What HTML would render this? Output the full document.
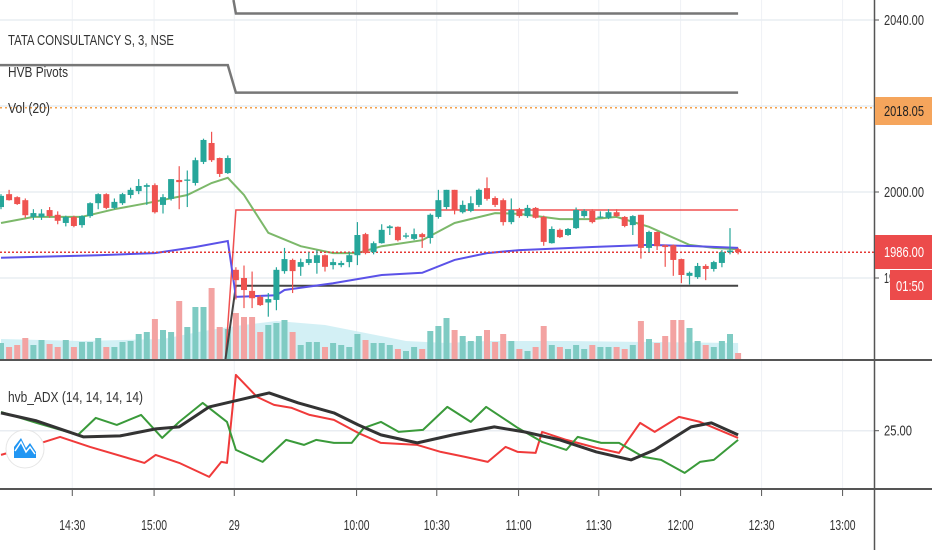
<!DOCTYPE html>
<html><head><meta charset="utf-8">
<style>
html,body{margin:0;padding:0;background:#fff;}
body{width:932px;height:550px;overflow:hidden;position:relative;font-family:"Liberation Sans Narrow","Liberation Sans",sans-serif;}
svg{position:absolute;left:0;top:0;}
.lbl{font-size:15px;fill:#333;}
</style></head>
<body>
<svg id="chart" width="932" height="550"></svg>
<script>
// ---- data ----
const candleO=[1996.5,1999.5,1998.8,1998.1,1994.2,1994.2,1995.8,1994.7,1992.8,1994.2,1992.3,1994.4,1997.4,1999.5,1996.3,1997.4,1999.3,2000.2,2001.2,2001.6,1997,1998.4,2002.8,2002.6,2002.1,2007,2011.4,2007.9,2004.4,
1981.9,1980,1977,1975.6,1974.3,1974.9,1981.6,1984.2,1982.6,1983.5,1983.5,1985.3,1983,1983,1983.7,1985.3,1990.2,1986,1988.1,1991.6,1991.9,1989.6,1989.1,1990.2,1989.3,1994.2,1996.5,2000.5,1995.3,1995.6,1997,2000.9,1998.6,1998.1,1993,1996,1994.4,1996.3,1994.2,1988.1,1991.2,1990,1991.6,1994.4,1995.6,1994.1,1994,1995.3,1994.2,1992.3,1994.7,1987,1990.7,1987.6,1987.6,1984.4,1980.5,1980.2,1982.8,1982.1,1983.5,1986,1986.7];
const candleH=[1999.5,2000.5,1999,1998.5,1996,1996,1996.5,1995.5,1994.5,1994.5,1994.6,1997.6,1999.7,1999.7,1998.5,1999.8,2001,2003,2002,2002,1999.5,2003,2006,2005,2008,2012.4,2014,2008,2008.5,
1982.5,1982.9,1981.5,1976,1976.5,1982.5,1987,1984.5,1984.5,1986,1986.5,1985.5,1984.5,1984,1986,1993,1990.5,1988.5,1992.5,1992.3,1992,1990.5,1991.5,1990.5,1995,2000.5,2000.5,2000.5,1998,1999,2000.8,2003.4,1999,1998.5,1998.5,1996.3,1997,1996.5,1994.5,1992,1991.5,1991.6,1996.4,1996,1996,1995.5,1996,1996,1994.4,1994.6,1994.7,1991,1990.8,1987.8,1987.8,1984.5,1981.5,1983.5,1983.2,1984,1986.5,1991.6,1987];
const candleL=[1996,1998,1997,1994,1993.5,1993.5,1994,1992.5,1992,1991.8,1991.7,1994,1996,1996,1996,1997,1998.5,1999.5,1997,1995,1995,1998,1996,1996.5,2001.5,2006.5,2007,2003.5,2004.2,
1975,1973,1973,1973.5,1971,1972.5,1981,1976.5,1980.5,1983,1981,1981.5,1982,1982.5,1982.5,1983,1985.5,1985.5,1988,1990,1988.5,1989.2,1988.8,1987,1988,1993.8,1996,1994.8,1995,1995.3,1996.5,1998,1996.5,1992.2,1992.5,1994,1994,1993.8,1987.5,1988,1989.3,1989.8,1991.4,1994,1992.7,1994,1993.7,1994.2,1991.8,1990,1984.5,1986,1986.5,1982.6,1980.5,1978.8,1978.5,1979.8,1979.5,1981.5,1982.5,1985.5,1985.5];
const candleC=[1999.1,1998.1,1997.2,1994.6,1995.1,1995,1994.4,1993.3,1994.2,1992.1,1994.4,1997.4,1999.5,1996.3,1997.7,1999.5,2000.5,2001.4,2001.6,1995.3,1998.8,2003,2002.3,2002.9,2007.4,2012.1,2007.4,2004.2,2007.9,
1979.5,1977.2,1975.3,1973.7,1975.1,1981.9,1984.4,1981.6,1983.7,1984.4,1985.3,1982.6,1983.7,1983.5,1985.3,1990,1985.8,1988.1,1991.2,1992,1988.8,1989.9,1990.2,1989.5,1994.7,1998.1,2000.5,1995.8,1997,1997.4,2000.5,1998.4,1997,1993,1995.8,1994.4,1996.3,1994,1988.4,1991.4,1989.5,1991.4,1995.8,1995.6,1993,1994.3,1995.3,1994.4,1992.1,1994.4,1987,1990.7,1987.4,1987.2,1984.2,1980.7,1981.2,1982.8,1982.1,1983.7,1986,1986.4,1986];
const volume=[16,12,14,21,14,19,15,12,19,12,17,17,21,12,12,17,18,25,27,40,29,27,58,32,52,52,71,32,30,
46,42,42,27,34,36,39,27,14,17,17,12,16,14,12,25,19,16,16,14,10,8,12,10,28,33,41,29,23,18,23,29,17,25,18,10,8,12,33,14,12,10,14,10,14,12,12,12,10,14,38,20,16,23,39,39,31,18,14,12,18,25,6];
const volMaIdx=[0,10,20,25,29,34,40,45,50,55,60,70,80,91];
const volMa=[20,18,20,28,33,38,34,26,18,16,18,18,17,16];
const smaIdx=[0,4,10,14,18,23,26,28,30,33,37,41,44,47,52,56,61,64,69,73,76,80,85,88,91];
const smaVal=[1992.8,1994.2,1994.2,1996,1997.4,1999.3,2002.1,2003.3,1999.3,1990.5,1987.4,1985.8,1985.8,1987.4,1988.8,1992.8,1995.1,1994.9,1993.7,1993.7,1994.2,1991.9,1987.7,1987,1986.7];
const vwapIdx=[0,12,19,24,28,29,34,35,41,47,52,56,60,64,73,80,86,91];
const vwapVal=[1984.7,1985.3,1985.8,1987.2,1988.6,1975.6,1976,1977.2,1978.8,1980.7,1981.2,1984.2,1985.8,1986.5,1987.2,1987.7,1987.4,1987];
const pivotR=1995.8, pivotS=1978.2, pivotTop1=2041.5, pivotTop2=2023.1, pivotPrevTop2=2029.5;
const lastPrice=1986.0, orangeLine=2019.6;
const priceTicks=[2040,2020,2000,1980];
const priceTickLabels=["2040.00","","2000.00","19"];
const timeIdx=[8.8,18.9,28.8,43.9,53.8,63.9,73.8,83.9,93.9,103.9];
const timeLabels=["14:30","15:00","29","10:00","10:30","11:00","11:30","12:00","12:30","13:00"];
const adxBlackIdx=[0,4.4,10.2,14.7,19.1,22,25.7,29.4,33.1,36.7,41.1,44.1,46.9,51.4,55.8,60.9,64.6,69,73.5,77.8,80.7,85.2,87.7,91];
const adxBlack=[33.9,29.9,21.9,22.4,25.9,26.9,36.9,40.4,43.9,38.9,33.9,27.9,22.9,18.9,22.9,26.9,24.4,20.4,14.4,10.4,15.4,26.9,28.9,22.9];
const adxRedIdx=[0,2.2,7.3,11,17.7,19.1,22,25.7,27.2,27.9,29,31.6,33.7,35.9,38.1,41.1,44.1,46.9,51.4,54.3,57.3,60.1,62.3,63.8,66,66.8,69.8,73.5,76.3,78.9,80.7,83.7,86.3,91];
const adxRed=[12.9,15.4,21.9,16.9,8.9,12.9,8.9,1.9,9.4,8.9,52.9,41.9,37.9,36.4,32.9,30.4,23.9,18.9,17.9,14.4,11.9,9.4,16.9,14.4,13.9,24.4,20.4,16.4,13.9,28.9,24.4,31.9,29.4,21.4];
const adxGreenIdx=[0,4.4,9.5,11.7,14.3,17.3,19.9,22,24.9,27.9,29,32.3,35.2,37.4,38.9,41.1,43.3,44.8,46.9,49.1,52.1,55.1,58,59.9,63.8,66.8,69.8,71.2,74.1,76.3,79.3,81.5,84.4,86.3,88,91];
const adxGreen=[34.4,28.9,22.9,31.4,27.9,32.9,21.4,29.4,38.9,29.4,15.4,9.4,20.4,17.9,20.4,18.9,18.9,26.4,29.4,24.4,25.4,36.9,29.4,36.9,26.4,19.4,15.4,21.9,18.9,18.9,11.9,10.4,3.9,9.4,10.4,20.4];

// ---- axes ----
const xOf=i=>1+i*8.1;
const yP=p=>192-(p-2000)*4.3;
const yV=v=>359-v;
const yA=v=>430.7-(v-25)*2;
const NS='http://www.w3.org/2000/svg';
const svg=document.getElementById('chart');
function mk(tag,attrs,parent){const e=document.createElementNS(NS,tag);for(const k in attrs)e.setAttribute(k,attrs[k]);(parent||svg).appendChild(e);return e;}
function grp(name){const g=mk('g',{});return g;}
function pts(ix,vals,yf){return ix.map((i,k)=>xOf(i).toFixed(1)+','+yf(vals[k]).toFixed(1)).join(' ');}
function txt(str,attrs,parent,w){const t=mk('text',attrs,parent);t.textContent=str;if(w){t.setAttribute('textLength',w);t.setAttribute('lengthAdjust','spacingAndGlyphs');}return t;}

// grid
const grid=grp('grid-lines');
timeIdx.forEach(i=>mk('line',{x1:xOf(i),x2:xOf(i),y1:0,y2:488,stroke:'#eef1f5','stroke-width':1},grid));
priceTicks.forEach(p=>mk('line',{x1:0,x2:874,y1:yP(p),y2:yP(p),stroke:'#e9edf2','stroke-width':1.5},grid));
mk('line',{x1:0,x2:874,y1:yA(25),y2:yA(25),stroke:'#e9edf2','stroke-width':1.5},grid);

// volume MA area
const vma=grp('volume-ma-area');
mk('polygon',{points:pts(volMaIdx,volMa,yV)+' '+xOf(91)+',359 '+xOf(0)+',359',fill:'#c8ecf2',opacity:0.8},vma);

// volume bars
const vg=grp('volume-bars');
volume.forEach((v,i)=>{const up=candleC[i]>=candleO[i];
 const r=mk('rect',{x:xOf(i)-3,y:yV(v),width:6,height:v,fill:up?'#7fcbc3':'#f3a3a2'},vg);
 
 });

// pivot lines
const pv=grp('hvb-pivots');
mk('polyline',{points:`0,${yP(pivotPrevTop2)} ${xOf(28)},${yP(pivotPrevTop2)} ${xOf(29)},${yP(pivotTop2)} ${xOf(91)},${yP(pivotTop2)}`,fill:'none',stroke:'#777','stroke-width':2.5},pv);
mk('polyline',{points:`${xOf(28.7)},0 ${xOf(29)},${yP(pivotTop1)} ${xOf(91)},${yP(pivotTop1)}`,fill:'none',stroke:'#777','stroke-width':2.5},pv);
mk('polyline',{points:`${xOf(27.7)},360 ${xOf(29)},${yP(pivotR)} ${xOf(91)},${yP(pivotR)}`,fill:'none',stroke:'#f05050','stroke-width':1.5},pv);
mk('polyline',{points:`${xOf(27.7)},360 ${xOf(29)},${yP(pivotS)} ${xOf(91)},${yP(pivotS)}`,fill:'none',stroke:'#444','stroke-width':2},pv);

// SMA & VWAP
const sg=mk('polyline',{points:pts(smaIdx,smaVal,yP),fill:'none',stroke:'#7cb86a','stroke-width':2});

const vw=mk('polyline',{points:pts(vwapIdx,vwapVal,yP),fill:'none',stroke:'#5b52e8','stroke-width':2});


// price lines
mk('line',{x1:0,x2:874,y1:yP(lastPrice),y2:yP(lastPrice),stroke:'#e53935','stroke-width':1.5,'stroke-dasharray':'2,2'});
mk('line',{x1:0,x2:874,y1:yP(orangeLine),y2:yP(orangeLine),stroke:'#f5a04a','stroke-width':1.5,'stroke-dasharray':'2,3'});

// candles
const cg=grp('candles');
candleO.forEach((o,i)=>{const c=candleC[i],up=c>=o,col=up?'#26a69a':'#ef5350',x=xOf(i);
 const g=mk('g',{},cg);
 
 
 mk('line',{x1:x,x2:x,y1:yP(candleH[i]),y2:yP(candleL[i]),stroke:col,'stroke-width':1.2},g);
 const t=yP(Math.max(o,c)),b=yP(Math.min(o,c));
 mk('rect',{x:x-3,y:t,width:6,height:Math.max(1.2,b-t),fill:col},g);});

// ADX lines
[[adxRedIdx,adxRed,'#f03a3a','adx-plus-di-line'],[adxGreenIdx,adxGreen,'#3a9a3a','adx-minus-di-line'],[adxBlackIdx,adxBlack,'#333','adx-line']].forEach(s=>{
 const l=mk('polyline',{points:pts(s[0],s[1],yA),fill:'none',stroke:s[2],'stroke-width':s[3]==='adx-line'?3:2,'stroke-linejoin':'round'});
 });

// separators / axes
mk('line',{x1:0,x2:932,y1:360,y2:360,stroke:'#555','stroke-width':2});
mk('line',{x1:0,x2:932,y1:489,y2:489,stroke:'#555','stroke-width':2});
mk('line',{x1:874.5,x2:874.5,y1:0,y2:550,stroke:'#555','stroke-width':1.5});

// price axis labels
const pa=grp('price-axis');
priceTicks.forEach((p,k)=>{if(!priceTickLabels[k])return;
 mk('line',{x1:874,x2:879,y1:yP(p),y2:yP(p),stroke:'#555'},pa);
 txt(priceTickLabels[k],{x:884,y:yP(p)+5,class:'lbl'},pa,priceTickLabels[k].length>3?40:10);});
mk('rect',{x:875,y:97,width:57,height:28,fill:'#f5a55c'},pa);
txt('2018.05',{x:884,y:116,class:'lbl',style:'fill:#222'},pa,40);
mk('rect',{x:875,y:235,width:57,height:34,fill:'#ec4b4b'},pa);
txt('1986.00',{x:884,y:yP(lastPrice)+5,class:'lbl',style:'fill:#fff'},pa,40);
mk('rect',{x:890,y:270,width:42,height:30,fill:'#ec4b4b'},pa);
txt('01:50',{x:896,y:291,class:'lbl',style:'fill:#fff'},pa,28);
mk('line',{x1:874,x2:879,y1:yA(25),y2:yA(25),stroke:'#555'},pa);
txt('25.00',{x:884,y:yA(25)+5,class:'lbl'},pa,28);

// time axis
const ta=grp('time-axis');
timeIdx.forEach((i,k)=>{
 mk('line',{x1:xOf(i),x2:xOf(i),y1:490,y2:496,stroke:'#555'},ta);
 txt(timeLabels[k],{x:xOf(i),y:530,'text-anchor':'middle',class:'lbl'},ta,timeLabels[k].length>2?26:11);});

// legends
const lg=grp('legend');
txt('TATA CONSULTANCY S, 3, NSE',{x:8,y:45,class:'lbl'},lg,166);
txt('HVB Pivots',{x:8,y:77,class:'lbl'},lg,60);
txt('Vol (20)',{x:8,y:113,class:'lbl'},lg,42);
const ad=txt('hvb_ADX (14, 14, 14, 14)',{x:8,y:402,class:'lbl'},null,135);

const logo=grp('indicator-logo');
mk('circle',{cx:25,cy:449,r:19,fill:'#fff',stroke:'#e6e6e6'},logo);
mk('path',{d:'M14 458 L14 447 L21 438 L26 448 L30 443 L36 452 L36 458 Z',fill:'#2196f3'},logo);
mk('polyline',{points:'15,451 21,442 26,452 30,447 35,454',fill:'none',stroke:'#fff','stroke-width':1.5},logo);
</script>
</body></html>
